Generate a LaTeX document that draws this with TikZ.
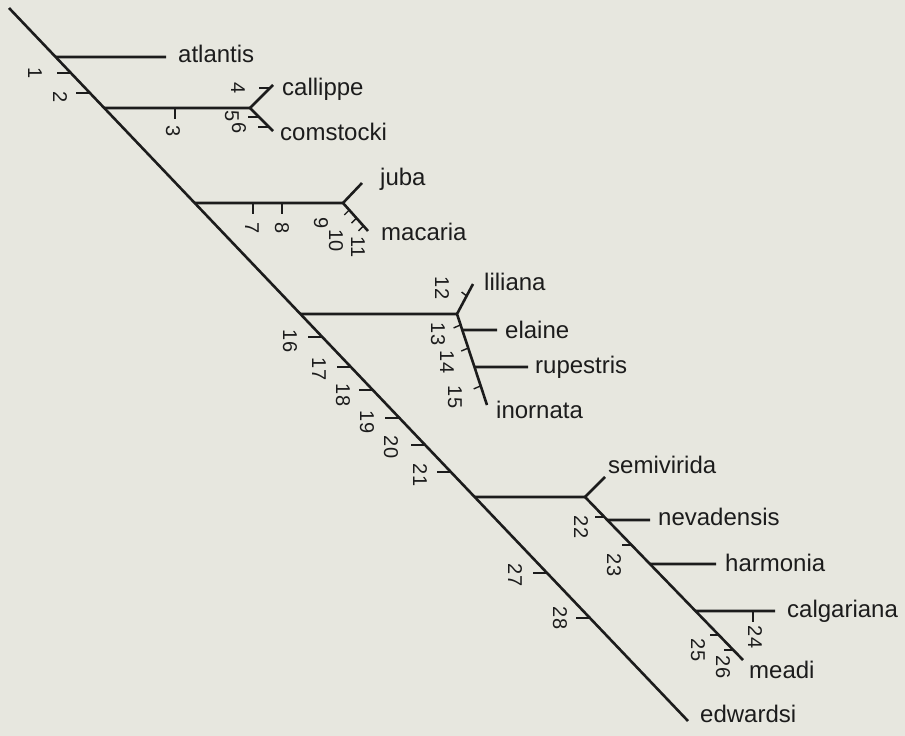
\documentclass[tikz,border=0pt]{standalone}
\usepackage{fontspec}
\setmainfont{Liberation Sans}
\usetikzlibrary{positioning, calc}
\definecolor{PaperBg}{RGB}{231,231,223}
\definecolor{Ink}{RGB}{28,28,28}
\tikzset{
  branch/.style={draw=Ink, line width=2.6pt},
  tickmark/.style={draw=Ink, line width=1.4pt},
  taxon/.style={anchor=base west, inner sep=0pt, text=Ink, font=\fontsize{24}{28}\selectfont},
  stepno/.style={rotate=-90, inner sep=0pt, text=Ink, font=\fontsize{20}{24}\selectfont},
}

\begin{document}
\begin{tikzpicture}[x=1pt, y=-1pt]
  \fill[PaperBg] (0,0) rectangle (905,736);
  \useasboundingbox (0,0) rectangle (905,736);

  % main stem
  \coordinate (root) at (9,8);
  \coordinate (edwTip) at (688,721);
  \draw[branch] (root) -- (edwTip);
  \node[taxon] (edwardsi) at (700,722) {edwardsi};
  \foreach \n/\y/\lx/\ly in {1/73/35/73, 2/93/60/97, 16/337/290/341, 17/367/319/369,
      18/390/343/395, 19/418/367/422, 20/445/391/447, 21/472/420/475,
      27/573/515/575, 28/618/560/618}{
    \coordinate (t\n) at ($(root)!{(\y-8)/713}!(edwTip)$);
    \coordinate (t\n-end) at ($(t\n)+(-14,0)$);
    \draw[tickmark] (t\n) -- (t\n-end);
    \node[stepno] (n\n) at (\lx,\ly) {\n};
  }

  % atlantis
  \coordinate (jA) at ($(root)!{49/713}!(edwTip)$);
  \coordinate (atlTip) at (166,57);
  \draw[branch] (jA) -- (atlTip);
  \node[taxon] (atlantis) at (178,62) {atlantis};

  % callippe + comstocki
  \coordinate (jB) at ($(root)!{100/713}!(edwTip)$);
  \coordinate (hB) at (250,108);
  \coordinate (calTip) at (273,85);
  \coordinate (comTip) at (273,131);
  \draw[branch] (jB) -- (hB);
  \draw[branch] (calTip) -- (hB) -- (comTip);
  \node[taxon] (callippe) at (282,95) {callippe};
  \node[taxon] (comstocki) at (280,140) {comstocki};
  \coordinate (t3) at (175,108);
  \coordinate (t3-end) at (175,119);
  \draw[tickmark] (t3) -- (t3-end);
  \node[stepno] (n3) at (173,131) {3};
  \coordinate (t4) at ($(hB)!0.87!(calTip)$);
  \coordinate (t5) at ($(hB)!0.39!(comTip)$);
  \coordinate (t6) at ($(hB)!0.83!(comTip)$);
  \foreach \n/\lx/\ly in {4/238/88, 5/232/116, 6/239/128}{
    \coordinate (t\n-end) at ($(t\n)+(-11,0)$);
    \draw[tickmark] (t\n) -- (t\n-end);
    \node[stepno] (n\n) at (\lx,\ly) {\n};
  }

  % juba + macaria
  \coordinate (jC) at ($(root)!{195/713}!(edwTip)$);
  \coordinate (hC) at (343,203);
  \coordinate (jubTip) at (362,183);
  \coordinate (macTip) at (368,231);
  \draw[branch] (jC) -- (hC);
  \draw[branch] (jubTip) -- (hC) -- (macTip);
  \node[taxon] (juba) at (380,185) {juba};
  \node[taxon] (macaria) at (381,240) {macaria};
  \foreach \n/\x/\lx in {7/253/252, 8/282/282}{
    \coordinate (t\n) at (\x,203);
    \coordinate (t\n-end) at (\x,214);
    \draw[tickmark] (t\n) -- (t\n-end);
    \node[stepno] (n\n) at (\lx,228) {\n};
  }
  \foreach \n/\f/\lx/\ly in {9/0.25/321/223, 10/0.54/336/241, 11/0.82/358/247}{
    \coordinate (t\n) at ($(hC)!\f!(macTip)$);
    \coordinate (t\n-end) at ($(t\n)+(-5,5)$);
    \draw[tickmark] (t\n) -- (t\n-end);
    \node[stepno] (n\n) at (\lx,\ly) {\n};
  }

  % liliana group
  \coordinate (jD) at ($(root)!{306/713}!(edwTip)$);
  \coordinate (hD) at (457,314);
  \coordinate (lilTip) at (473,284);
  \coordinate (inoTip) at (487,405);
  \coordinate (elaJ) at ($(hD)!{16/91}!(inoTip)$);
  \coordinate (rupJ) at ($(hD)!{53/91}!(inoTip)$);
  \coordinate (elaTip) at (497,330);
  \coordinate (rupTip) at (528,367);
  \draw[branch] (jD) -- (hD);
  \draw[branch] (lilTip) -- (hD) -- (inoTip);
  \draw[branch] (elaJ) -- (elaTip);
  \draw[branch] (rupJ) -- (rupTip);
  \node[taxon] (liliana) at (484,290) {liliana};
  \node[taxon] (elaine) at (505,338) {elaine};
  \node[taxon] (rupestris) at (535,373) {rupestris};
  \node[taxon] (inornata) at (496,418) {inornata};
  \coordinate (t12) at ($(hD)!0.6!(lilTip)$);
  \coordinate (t12-end) at ($(t12)+(-5,-4)$);
  \draw[tickmark] (t12) -- (t12-end);
  \node[stepno] (n12) at (442,288) {12};
  \foreach \n/\f/\lx/\ly in {13/0.12/438/334, 14/0.374/447/362, 15/0.79/455/397}{
    \coordinate (t\n) at ($(hD)!\f!(inoTip)$);
    \coordinate (t\n-end) at ($(t\n)+(-7,3)$);
    \draw[tickmark] (t\n) -- (t\n-end);
    \node[stepno] (n\n) at (\lx,\ly) {\n};
  }

  % semivirida group
  \coordinate (jE) at ($(root)!{489/713}!(edwTip)$);
  \coordinate (hE) at (585,497);
  \coordinate (semTip) at (605,477);
  \coordinate (meaTip) at (743,660);
  \coordinate (nevJ) at ($(hE)!{23/163}!(meaTip)$);
  \coordinate (harJ) at ($(hE)!{67/163}!(meaTip)$);
  \coordinate (calgJ) at ($(hE)!{114/163}!(meaTip)$);
  \coordinate (nevTip) at (650,520);
  \coordinate (harTip) at (716,564);
  \coordinate (calgTip) at (775,611);
  \draw[branch] (jE) -- (hE);
  \draw[branch] (semTip) -- (hE) -- (meaTip);
  \draw[branch] (nevJ) -- (nevTip);
  \draw[branch] (harJ) -- (harTip);
  \draw[branch] (calgJ) -- (calgTip);
  \node[taxon] (semivirida) at (608,473) {semivirida};
  \node[taxon] (nevadensis) at (658,525) {nevadensis};
  \node[taxon] (harmonia) at (725,571) {harmonia};
  \node[taxon] (calgariana) at (787,617) {calgariana};
  \node[taxon] (meadi) at (749,678) {meadi};
  \coordinate (t24) at (753,611);
  \coordinate (t24-end) at (753,622);
  \draw[tickmark] (t24) -- (t24-end);
  \node[stepno] (n24) at (755,637) {24};
  \foreach \n/\f/\lx/\ly in {22/0.123/581/527, 23/0.294/614/565, 25/0.847/698/650, 26/0.939/723/667}{
    \coordinate (t\n) at ($(hE)!\f!(meaTip)$);
    \coordinate (t\n-end) at ($(t\n)+(-9,0)$);
    \draw[tickmark] (t\n) -- (t\n-end);
    \node[stepno] (n\n) at (\lx,\ly) {\n};
  }
\end{tikzpicture}
\end{document}
